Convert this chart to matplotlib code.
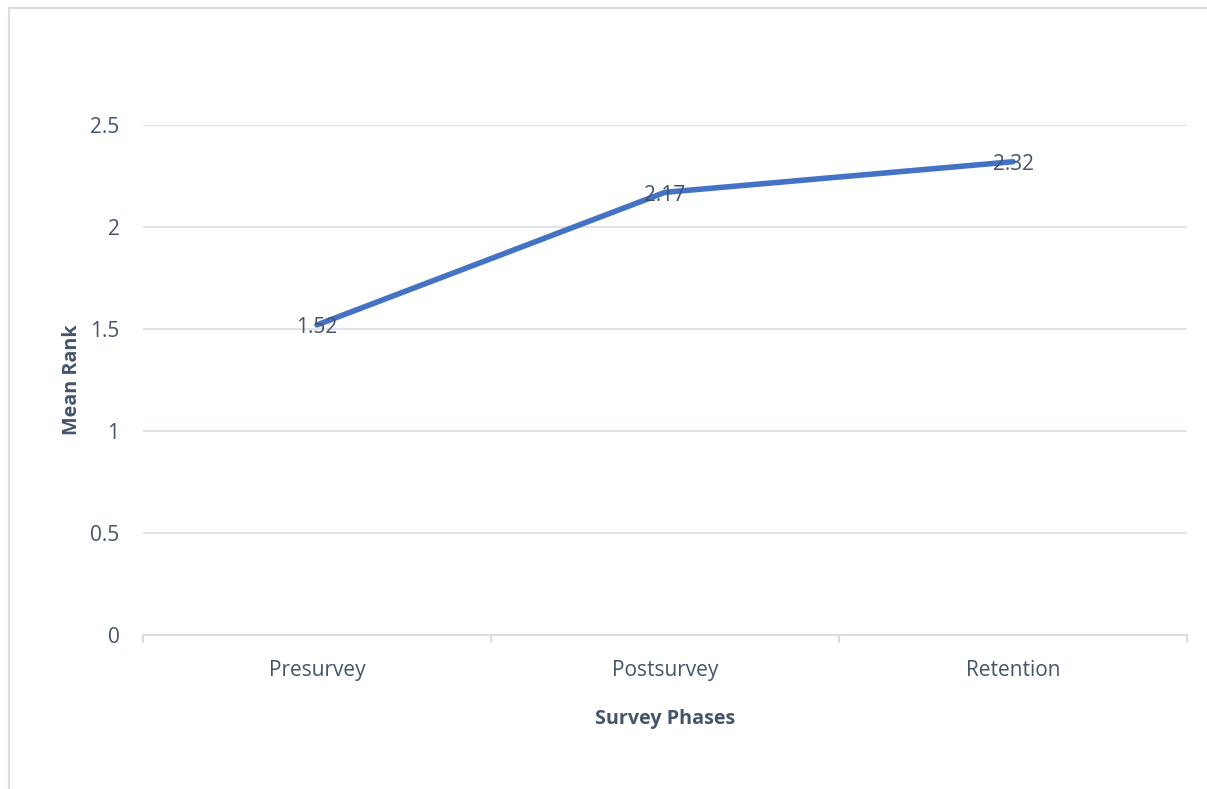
import matplotlib.pyplot as plt
from matplotlib.lines import Line2D

phases = ['Presurvey', 'Postsurvey', 'Retention']
mean_rank = [1.52, 2.17, 2.32]
y_ticks = [0, 0.5, 1, 1.5, 2, 2.5]

TEXT = '#44546A'
GRID = '#D9DEE6'
LINE = '#4472C4'
FS = 15

W, H = 1207, 789
fig = plt.figure(figsize=(W / 100, H / 100), dpi=100)
plt.rcParams['font.family'] = ['Open Sans', 'DejaVu Sans']

# chart area outline (only top and left edges fall inside the image)
fig.add_artist(Line2D([9 / W, 1], [1 - 8 / H, 1 - 8 / H], color=GRID, lw=1.5,
                      transform=fig.transFigure))
fig.add_artist(Line2D([9 / W, 9 / W], [0, 1 - 8 / H], color=GRID, lw=1.5,
                      transform=fig.transFigure))

left, right = 143 / W, 1187 / W
bottom, top = 1 - 635 / H, 1 - 125 / H
ax = fig.add_axes([left, bottom, right - left, top - bottom])

x = list(range(len(phases)))
ax.plot(x, mean_rank, color=LINE, lw=4.0, solid_capstyle='round', zorder=3)
for xi, v in zip(x, mean_rank):
    ax.annotate(f'{v:.2f}', (xi, v), xytext=(0, -2), textcoords='offset points',
                ha='center', va='center', fontsize=FS, color=TEXT, zorder=4)

ax.set_xlim(-0.5, len(phases) - 0.5)
ax.set_ylim(0, 2.5)
ax.set_yticks(y_ticks)
ax.set_yticklabels([f'{t:g}' for t in y_ticks])
ax.set_xticks(x)
ax.set_xticklabels(phases)
ax.set_xticks([-0.5, 0.5, 1.5, 2.5], minor=True)

ax.grid(axis='y', color=GRID, lw=1.2)
ax.set_axisbelow(True)
for s in ['top', 'right', 'left']:
    ax.spines[s].set_visible(False)
ax.spines['bottom'].set_color(GRID)
ax.spines['bottom'].set_linewidth(1.5)

ax.tick_params(axis='y', length=0, pad=17, labelsize=FS, labelcolor=TEXT)
ax.tick_params(axis='x', which='major', length=0, pad=18, labelsize=FS,
               labelcolor=TEXT)
ax.tick_params(axis='x', which='minor', length=6, width=1.5, color=GRID)

ax.set_xlabel('Survey Phases', fontsize=14.2, fontweight='bold', color=TEXT,
              labelpad=20)
ax.set_ylabel('Mean Rank', fontsize=14.2, fontweight='bold', color=TEXT,
              labelpad=6)

fig.savefig('out.png', dpi=100, facecolor='white')
